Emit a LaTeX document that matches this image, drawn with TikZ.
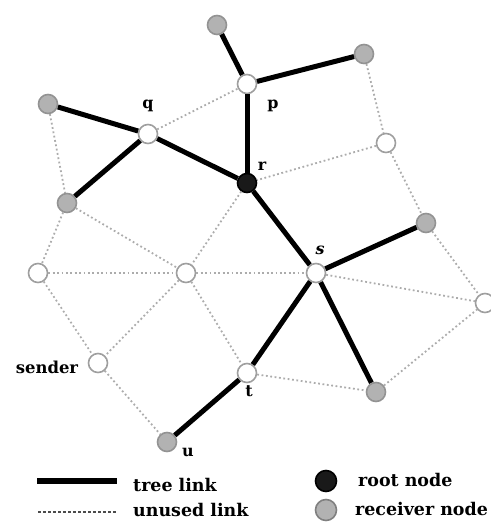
\documentclass[tikz,border=0pt]{standalone}
\usepackage{fontspec}
\setmainfont{DejaVu Serif}
\begin{document}
\begin{tikzpicture}[x=1bp,y=-1bp,
  nd/.style={circle,minimum size=19bp,inner sep=0pt,line width=1.6bp},
  wnode/.style={nd,draw=gray!75,fill=white},
  gnode/.style={nd,draw=gray!85,fill=gray!60},
  bnode/.style={nd,draw=black,fill=black!90},
  tree/.style={line width=5bp,black},
  unused/.style={line width=1.8bp,gray!65,dash pattern=on 1.8bp off 2.6bp},
  lbl/.style={font=\bfseries\fontsize{16}{16}\selectfont,inner sep=0pt},
  leg/.style={font=\bfseries\fontsize{17.5}{17.5}\selectfont,inner sep=0pt,anchor=west}]
\useasboundingbox (0,0) rectangle (491,524);
% nodes
\node[gnode] (top) at (217,25) {};
\node[wnode] (p) at (247,84) {};
\node[gnode] (rt) at (364,54) {};
\node[gnode] (lg) at (48,104) {};
\node[wnode] (q) at (148,134) {};
\node[wnode] (rw) at (386,143) {};
\node[bnode] (r) at (247,183) {};
\node[gnode] (gl) at (67,203) {};
\node[gnode] (gr) at (426,223) {};
\node[wnode] (lw) at (38,273) {};
\node[wnode] (c) at (186,273) {};
\node[wnode] (s) at (316,273) {};
\node[wnode] (fr) at (485,303) {};
\node[wnode] (sender) at (98,363) {};
\node[wnode] (t) at (247,373) {};
\node[gnode] (br) at (376,392) {};
\node[gnode] (u) at (167,442) {};
% unused links
\draw[unused] (q) -- (p);
\draw[unused] (rt) -- (rw);
\draw[unused] (rw) -- (r);
\draw[unused] (rw) -- (gr);
\draw[unused] (lg) -- (gl);
\draw[unused] (gl) -- (lw);
\draw[unused] (gl) -- (c);
\draw[unused] (r) -- (c);
\draw[unused] (gr) -- (fr);
\draw[unused] (lw) -- (c);
\draw[unused] (c) -- (s);
\draw[unused] (s) -- (fr);
\draw[unused] (lw) -- (sender);
\draw[unused] (c) -- (sender);
\draw[unused] (c) -- (t);
\draw[unused] (sender) -- (u);
\draw[unused] (t) -- (br);
\draw[unused] (br) -- (fr);
% tree links
\draw[tree] (top) -- (p);
\draw[tree] (p) -- (rt);
\draw[tree] (p) -- (r);
\draw[tree] (lg) -- (q);
\draw[tree] (q) -- (r);
\draw[tree] (q) -- (gl);
\draw[tree] (r) -- (s);
\draw[tree] (s) -- (gr);
\draw[tree] (s) -- (t);
\draw[tree] (s) -- (br);
\draw[tree] (t) -- (u);
% labels
\node[lbl] (lq) at (148,106) {q};
\node[lbl] (lp) at (273,106) {p};
\node[lbl] (lr) at (262,166) {r};
\node[lbl,font=\bfseries\itshape\fontsize{16}{16}\selectfont] (ls) at (320,250) {s};
\node[lbl] (lt) at (249,391) {t};
\node[lbl] (lu) at (188,452) {u};
\node[lbl,font=\bfseries\fontsize{16.5}{16.5}\selectfont] (lsender) at (47,367) {sender};
% legend
\coordinate (tl1) at (37,481);
\coordinate (tl2) at (117,481);
\draw[line width=5.5bp,black] (tl1) -- (tl2);
\coordinate (ul1) at (38,512);
\coordinate (ul2) at (117,512);
\draw[line width=1.3bp,black!70,dash pattern=on 3bp off 2bp] (ul1) -- (ul2);
\node[leg] (ltree) at (133,485) {tree link};
\node[leg] (lunused) at (133,510) {unused link};
\node[bnode,minimum size=21bp] (lroot) at (326,481) {};
\node[gnode,minimum size=21bp,draw=gray] (lrecv) at (326,510) {};
\node[leg] (lrootT) at (358,480) {root node};
\node[leg] (lrecvT) at (355,509) {receiver node};
\end{tikzpicture}
\end{document}
